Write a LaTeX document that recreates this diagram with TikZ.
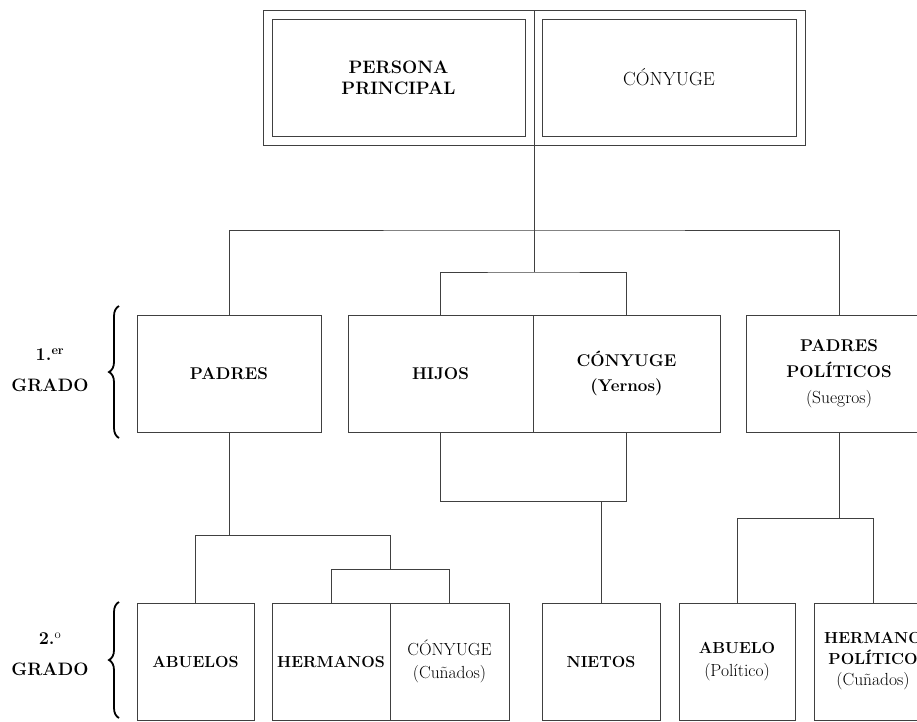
\documentclass[tikz,border=0pt]{standalone}
\usepackage{fontspec}
\usetikzlibrary{decorations.pathreplacing}
\newcommand{\rg}[1]{{\fontsize{17.5}{23}\selectfont #1}}
\begin{document}
\begin{tikzpicture}[x=1pt,y=-1pt,
  box/.style={draw=black!75,line width=0.9pt,rectangle,inner sep=0pt,align=center,font=\fontsize{16}{23}\selectfont},
  conn/.style={draw=black!75,line width=0.9pt},
  grbrace/.style={draw=black,decorate,decoration={brace,amplitude=10pt},line width=1.8pt},
  lbl/.style={align=center,font=\bfseries\fontsize{18}{31}\selectfont}]
\useasboundingbox (0,0) rectangle (917,721);
% top couple
\node[box,minimum width=542pt,minimum height=135pt] (outer) at (534,77.5) {};
\node[box,minimum width=253pt,minimum height=117pt,font=\bfseries\fontsize{18}{21}\selectfont] (pp0) at (398.5,77.5) {PERSONA\\PRINCIPAL};
\node[box,minimum width=254pt,minimum height=117pt,font=\fontsize{19}{21}\selectfont] (cy0) at (669,77.5) {CÓNYUGE};
% first degree
\node[box,minimum width=184pt,minimum height=117pt,font=\fontsize{17}{25}\selectfont] (padres) at (229,373.5) {\textbf{PADRES}};
\node[box,minimum width=185pt,minimum height=117pt,font=\fontsize{17}{25}\selectfont] (hijos) at (440.5,373.5) {\textbf{HIJOS}};
\node[box,minimum width=187pt,minimum height=117pt,font=\fontsize{17}{25}\selectfont] (cyY) at (626.5,373.5) {\textbf{CÓNYUGE}\\\textbf{(Yernos)}};
\node[box,minimum width=186pt,minimum height=117pt,font=\fontsize{17}{26}\selectfont] (ppol) at (839,373.5) {\textbf{PADRES}\\\textbf{POLÍTICOS}\\\rg{(Suegros)}};
% second degree
\node[box,minimum width=117pt,minimum height=117pt] (abuelos) at (195.5,661.5) {\textbf{ABUELOS}};
\node[box,minimum width=118pt,minimum height=117pt] (herm) at (331,661.5) {\textbf{HERMANOS}};
\node[box,minimum width=119pt,minimum height=117pt] (cyC) at (449.5,661.5) {\rg{CÓNYUGE}\\\rg{(Cuñados)}};
\node[box,minimum width=118pt,minimum height=117pt] (nietos) at (601,661.5) {\textbf{NIETOS}};
\node[box,minimum width=116pt,minimum height=117pt] (abuelo) at (737,661.5) {\textbf{ABUELO}\\\rg{(Político)}};
\node[box,minimum width=118pt,minimum height=117pt,font=\fontsize{16}{21}\selectfont] (hpol) at (873,661.5) {\textbf{HERMANO}\\\textbf{POLÍTICO}\\\rg{(Cuñados)}};
% junctions
\coordinate (t0) at (534,10);
\coordinate (j1) at (534,230);
\coordinate (j2) at (534,272);
\coordinate (j3) at (601,501);
\coordinate (j4) at (229,535);
\coordinate (j5) at (390,569);
\coordinate (j6) at (839,518);
% connectors
\draw[conn] (t0) -- (j2);
\draw[conn] (padres.north) |- (j1) -| (ppol.north);
\draw[conn] (hijos.north) |- (j2) -| (cyY.north);
\draw[conn] (hijos.south) |- (j3) -| (cyY.south);
\draw[conn] (j3) -- (nietos.north);
\draw[conn] (padres.south) -- (j4);
\draw[conn] (abuelos.north) |- (j4) -| (j5);
\draw[conn] (herm.north) |- (j5) -| (cyC.north);
\draw[conn] (ppol.south) -- (j6);
\draw[conn] (abuelo.north) |- (j6) -| (hpol.north);
% degree labels and braces
\coordinate (b1a) at (119,438);
\coordinate (b1b) at (119,306);
\coordinate (b2a) at (119,718);
\coordinate (b2b) at (119,602);
\draw[grbrace] (b1a) -- (b1b);
\draw[grbrace] (b2a) -- (b2b);
\node[lbl] (g1) at (50,370) {1.\textsuperscript{er}\\GRADO};
\node[lbl] (g2) at (50,654) {2.\textsuperscript{\normalfont o}\\GRADO};
\end{tikzpicture}
\end{document}
